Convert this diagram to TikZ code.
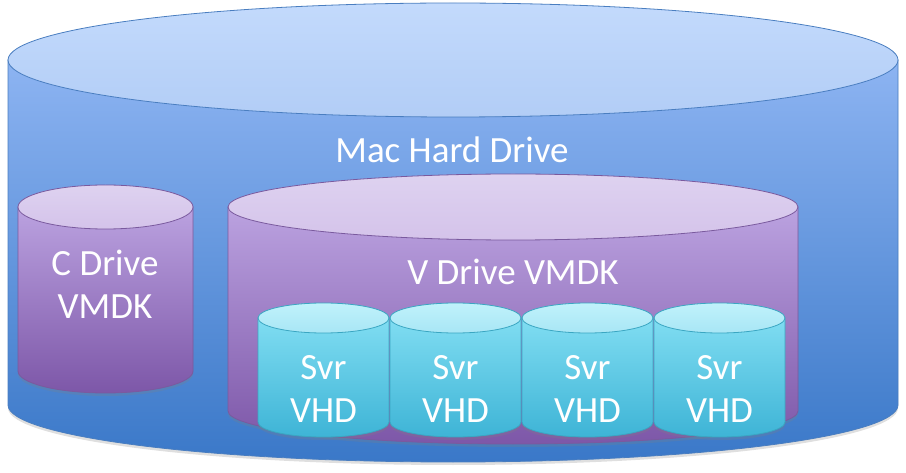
\documentclass[tikz,border=0pt]{standalone}
\usepackage{fontspec}
\setmainfont{Carlito}
\usetikzlibrary{shadows}

\definecolor{macline}{HTML}{4A7EC0}
\definecolor{macbodytop}{HTML}{8DB4F2}
\definecolor{macbodybot}{HTML}{3A78C8}
\definecolor{mactoptop}{HTML}{C3DAFC}
\definecolor{mactopbot}{HTML}{B2CDF6}
\definecolor{vmline}{HTML}{7A5A9E}
\definecolor{vmbodytop}{HTML}{BBA2E0}
\definecolor{vmbodybot}{HTML}{7D57A8}
\definecolor{vmtoptop}{HTML}{DED2F0}
\definecolor{vmtopbot}{HTML}{D4C3EA}
\definecolor{vhdline}{HTML}{3AA6C2}
\definecolor{vhdbodytop}{HTML}{80DDF2}
\definecolor{vhdbodybot}{HTML}{3EB4D6}
\definecolor{vhdtoptop}{HTML}{C0F2FB}
\definecolor{vhdtopbot}{HTML}{A8E6F5}

% one drum: centre x, top y, bottom y, x radius, y radius, body style, lid style
\newcommand{\drum}[7]{%
  \path[#6] (#1-#4,#2) -- (#1-#4,#3)
    arc[start angle=180, end angle=0, x radius=#4, y radius=#5] -- (#1+#4,#2) -- cycle;
  \path[#7] (#1,#2) ellipse[x radius=#4, y radius=#5];
}

\tikzset{
  soft shadow/.style={drop shadow={opacity=0.25, shadow xshift=0pt, shadow yshift=-3pt}},
  mac body/.style={draw=macline, line width=0.8pt, top color=macbodytop, bottom color=macbodybot, soft shadow},
  mac lid/.style={draw=macline, line width=0.8pt, top color=mactoptop, bottom color=mactopbot},
  vm body/.style={draw=vmline, line width=0.8pt, top color=vmbodytop, bottom color=vmbodybot, soft shadow},
  vm lid/.style={draw=vmline, line width=0.8pt, top color=vmtoptop, bottom color=vmtopbot},
  vhd body/.style={draw=vhdline, line width=0.8pt, top color=vhdbodytop, bottom color=vhdbodybot, soft shadow},
  vhd lid/.style={draw=vhdline, line width=0.8pt, top color=vhdtoptop, bottom color=vhdtopbot},
  drive text/.style={text=white, inner sep=0pt, align=center, font=\fontsize{37}{43}\selectfont}
}

\begin{document}
\begin{tikzpicture}[x=1pt, y=-1pt]

    % Fix the page to the size of the picture
    \useasboundingbox (0,0) rectangle (906,473);

    % The outer drum
    \drum{453}{60}{405}{445}{57}{mac body}{mac lid}
    \node[drive text, anchor=base] (mac) at (452,163) {Mac Hard Drive};

    % The small drum on the left
    \drum{105.5}{207}{371}{87.5}{22}{vm body}{vm lid}
    \node[drive text] (cdrive) at (105,284) {C Drive\\VMDK};

    % The wide drum holding the VHDs
    \drum{513}{207}{411}{285}{33}{vm body}{vm lid}
    \node[drive text, anchor=base] (vdrive) at (513,285) {V Drive VMDK};

    % Four VHD drums in a row
    \foreach \i in {0,...,3} {
        \pgfmathsetmacro{\cx}{323.5+132*\i}
        \drum{\cx}{318}{422}{65.5}{15}{vhd body}{vhd lid}
        \node[drive text] (svr\i) at (\cx,389) {Svr\\VHD};
    }

\end{tikzpicture}
\end{document}
